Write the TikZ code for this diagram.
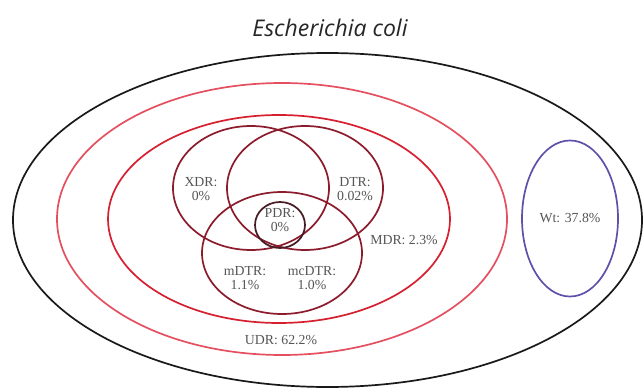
\documentclass[tikz,border=0pt]{standalone}
\usepackage{fontspec}
\setmainfont{Liberation Serif}
\newfontfamily\titlefont{Open Sans}
\definecolor{udrcol}{RGB}{228,80,96}
\definecolor{mdrcol}{RGB}{214,32,48}
\definecolor{drcol}{RGB}{140,28,44}
\definecolor{pdrcol}{RGB}{70,28,36}
\definecolor{wtcol}{RGB}{96,80,170}
\definecolor{labcol}{RGB}{85,85,85}
\begin{document}
\begin{tikzpicture}[x=1pt,y=-1pt,
  ring/.style={line width=1.7pt},
  lab/.style={text=labcol,font=\fontsize{13.8}{14}\selectfont,align=center,inner sep=0pt}]
\useasboundingbox (0,0) rectangle (644,390);
\fill[white] (0,0) rectangle (644,390);
% title
\node[font=\titlefont\itshape\fontsize{23}{26}\selectfont,text=black!85] (title) at (330,28) {Escherichia coli};
% ellipses
\draw[ring,black!90] (327.5,220) ellipse [x radius=314.5pt, y radius=167pt];
\draw[ring,udrcol] (282,219) ellipse [x radius=225pt, y radius=136pt];
\draw[ring,mdrcol] (279,219) ellipse [x radius=171pt, y radius=104pt];
\draw[ring,drcol] (251,188) ellipse [x radius=78pt, y radius=62pt];
\draw[ring,drcol] (305,188) ellipse [x radius=78pt, y radius=62pt];
\draw[ring,drcol] (282,253) ellipse [x radius=80pt, y radius=61pt];
\draw[ring,pdrcol] (280,225) ellipse [x radius=25pt, y radius=23pt];
\draw[ring,wtcol] (570,218.5) ellipse [x radius=48pt, y radius=78pt];
% labels
\node[lab] (xdr) at (201,189) {XDR:\\0\%};
\node[lab] (dtr) at (355,189) {DTR:\\0.02\%};
\node[lab] (pdr) at (280,220) {PDR:\\0\%};
\node[lab] (mdtr) at (245,278) {mDTR:\\1.1\%};
\node[lab] (mcdtr) at (312,278) {mcDTR:\\1.0\%};
\node[lab] (mdr) at (404,240) {MDR: 2.3\%};
\node[lab] (udr) at (281,340) {UDR: 62.2\%};
\node[lab] (wt) at (570,218) {Wt: 37.8\%};
\end{tikzpicture}
\end{document}
